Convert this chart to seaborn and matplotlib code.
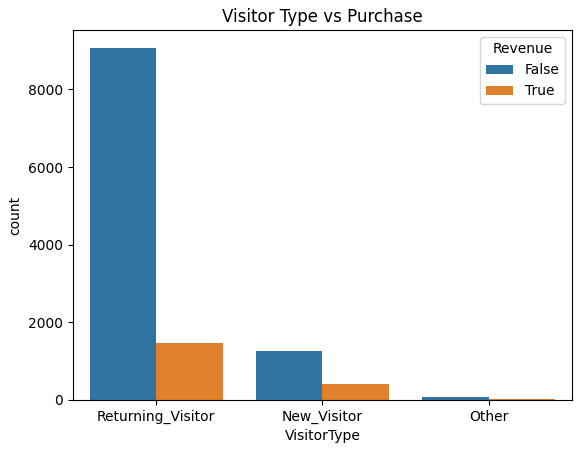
import pandas as pd
import matplotlib.pyplot as plt
import seaborn as sns

# counts (online shoppers intention data)
visitor_types = ['Returning_Visitor', 'New_Visitor', 'Other']
revenue_false = [9081, 1272, 69]
revenue_true = [1470, 422, 16]

df = pd.DataFrame({
    'VisitorType': visitor_types * 2,
    'Revenue': ['False'] * 3 + ['True'] * 3,
    'count': revenue_false + revenue_true,
})

fig, ax = plt.subplots(figsize=(5.8, 4.53), dpi=100)
sns.barplot(data=df, x='VisitorType', y='count', hue='Revenue', ax=ax)
ax.set_title('Visitor Type vs Purchase')
ax.legend(title='Revenue')

plt.subplots_adjust(left=0.126, right=0.986, top=0.934, bottom=0.117)
plt.savefig('out.png', dpi=100)
